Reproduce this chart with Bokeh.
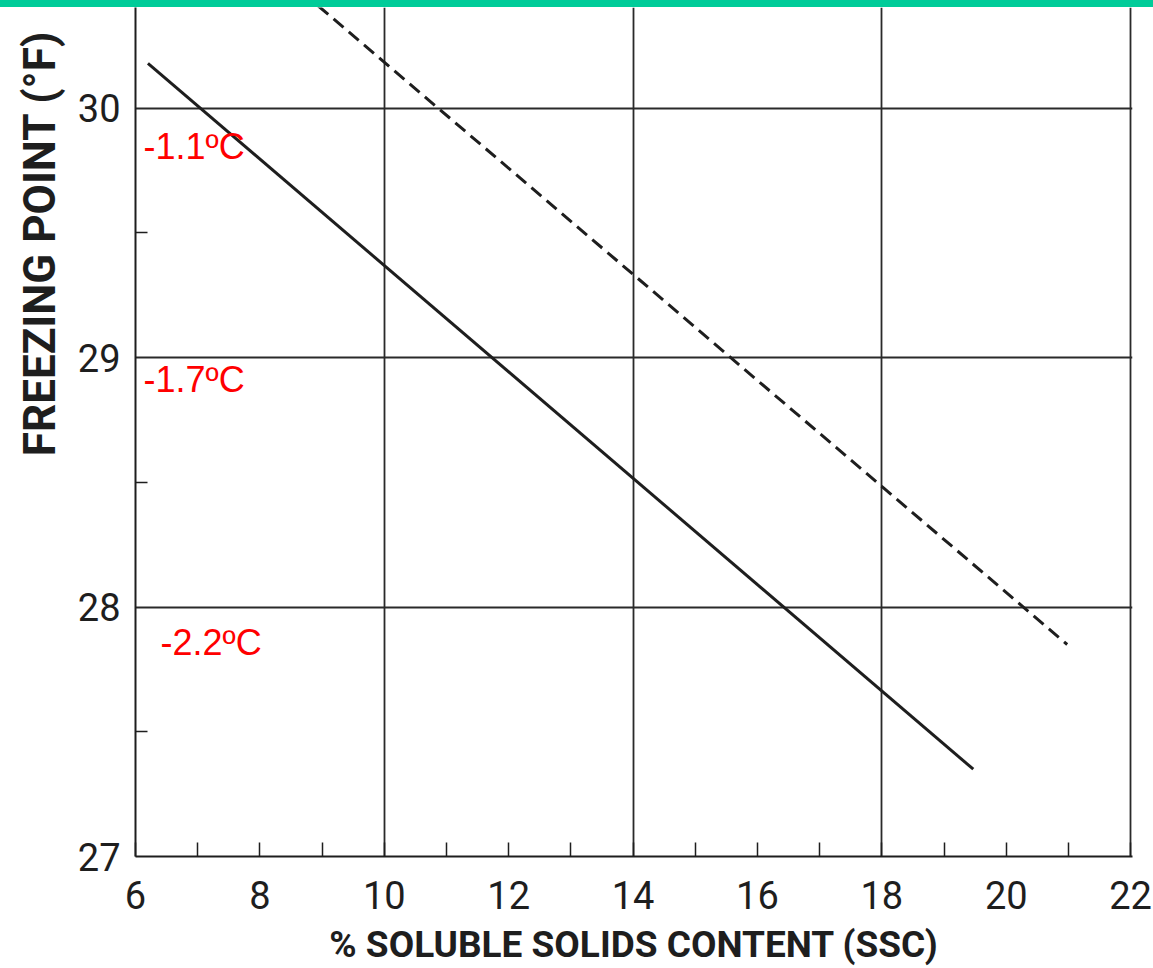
from bokeh.plotting import figure
from bokeh.models import Range1d, FixedTicker, Div, ColumnDataSource, Title
from bokeh.layouts import column
from bokeh.embed import file_html
from bokeh.resources import INLINE
from bokeh.core.properties import value

# ---- data ----
ssc_solid = [6.2, 19.47]
fp_solid = [30.18, 27.35]
ssc_dashed = [8.94, 20.98]
fp_dashed = [30.41, 27.85]

x_ticks = [6, 8, 10, 12, 14, 16, 18, 20, 22]
x_minor = [7, 9, 11, 13, 15, 17, 19, 21]
x_grid = [10, 14, 18, 22]
y_ticks = [27, 28, 29, 30]
y_minor = [27.5, 28.5, 29.5]
y_grid = [28, 29, 30]

celsius_text = ["-1.1ºC", "-1.7ºC", "-2.2ºC"]
celsius_f = [30, 29, 28]
celsius_dx = [8, 8, 25]
celsius_dy = [38, 22, 35]

x_title = "% SOLUBLE SOLIDS CONTENT (SSC)"
y_title = "FREEZING POINT (°F)"

FONT = "Roboto"
INK = "#1e1e1e"

p = figure(
    frame_width=997, frame_height=849,
    min_border_left=135, min_border_right=21,
    min_border_top=0, min_border_bottom=110,
    x_range=Range1d(6, 22.03), y_range=Range1d(27, 30.404),
    output_backend="svg", toolbar_location=None,
)
p.outline_line_color = None
p.background_fill_color = "white"
p.border_fill_color = "white"

# grids
p.xgrid.ticker = FixedTicker(ticks=x_grid)
p.ygrid.ticker = FixedTicker(ticks=y_grid)
for g in (p.xgrid, p.ygrid):
    g.grid_line_color = "#2a2a2a"
    g.grid_line_width = 1.8

# axes
p.xaxis.ticker = FixedTicker(ticks=x_ticks, minor_ticks=x_minor)
p.yaxis.ticker = FixedTicker(ticks=y_ticks, minor_ticks=y_minor)
for ax in (p.xaxis, p.yaxis):
    ax.axis_line_color = INK
    ax.axis_line_width = 2
    ax.major_tick_out = 0
    ax.minor_tick_out = 0
    ax.major_tick_line_color = INK
    ax.minor_tick_line_color = INK
    ax.major_tick_line_width = 1.5
    ax.minor_tick_line_width = 1.5
    ax.major_label_text_font = FONT
    ax.major_label_text_color = INK
    ax.major_label_text_font_size = "38px"
p.xaxis.major_tick_in = 14
p.xaxis.minor_tick_in = 14
p.yaxis.major_tick_in = 0
p.yaxis.minor_tick_in = 12
p.xaxis.major_label_standoff = 24
p.yaxis.major_label_standoff = 15

p.xaxis.axis_label = x_title
p.xaxis.axis_label_text_font = FONT
p.xaxis.axis_label_text_font_style = "bold"
p.xaxis.axis_label_text_font_size = "37px"
p.xaxis.axis_label_text_color = INK
p.xaxis.axis_label_standoff = 11

# lines
p.line(ssc_solid, fp_solid, line_color=INK, line_width=3)
p.line(ssc_dashed, fp_dashed, line_color=INK, line_width=3, line_dash="13 7")

# red Celsius annotations
src = ColumnDataSource(dict(x=[6] * len(celsius_f), y=celsius_f, t=celsius_text,
                            dx=celsius_dx, dy=celsius_dy))
p.text(x="x", y="y", text="t", x_offset="dx", y_offset="dy", source=src,
       text_color="#ff0000", text_font=value("Liberation Sans"),
       text_font_size="36px", text_align="left", text_baseline="alphabetic")

# y-axis title, placed toward the top as in the reference
p.add_layout(Title(text=y_title, align="right", offset=23, standoff=18,
                   text_font=FONT, text_font_style="bold",
                   text_font_size="44px", text_color=INK), "left")

bar = Div(text="", width=1153, height=7, margin=0,
          styles={"background-color": "#00CC99"})
layout = column(bar, p, spacing=0)

open("out.html", "w").write(file_html(layout, INLINE))
